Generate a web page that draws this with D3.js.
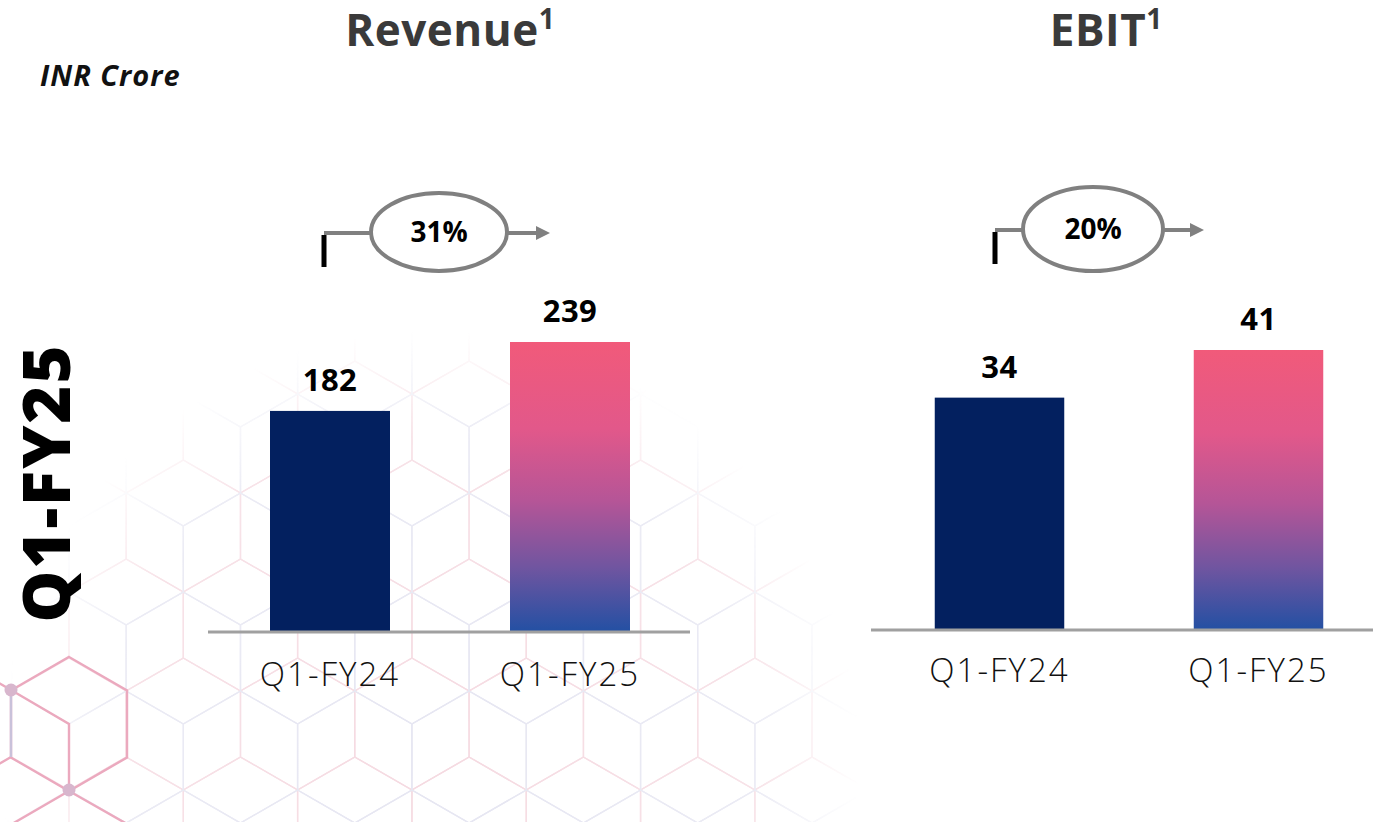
<!DOCTYPE html>
<html><head><meta charset="utf-8">
<script src="https://cdn.jsdelivr.net/npm/d3@7"></script>
<style>html,body{margin:0;padding:0;background:#fff;overflow:hidden;} svg{display:block;}</style>
</head><body><svg id="chart" width="1373" height="822"></svg>
<script>
// ---------- data ----------
const categories = ["Q1-FY24", "Q1-FY25"];
const revenueValues = [182, 239];
const ebitValues = [34, 41];
const panelTitles = ["Revenue", "EBIT"];
const titleNotes = ["1", "1"];
const growthLabels = ["31%", "20%"];
const unitLabel = "INR Crore";
const periodLabel = "Q1-FY25";

// ---------- layout ----------
const W = 1373, H = 822;
const svg = d3.select("#chart");
const defs = svg.append("defs");

const grad = defs.append("linearGradient").attr("id", "barGrad")
  .attr("x1", 0).attr("y1", 0).attr("x2", 0).attr("y2", 1);
[[0, "#F15A7A"], [0.3, "#E2588A"], [0.55, "#B55597"], [0.78, "#7055A0"], [1, "#2450A3"]]
  .forEach(([o, c]) => grad.append("stop").attr("offset", o).attr("stop-color", c));

// background honeycomb (decoration)
const fade = defs.append("radialGradient").attr("id", "fadeGrad")
  .attr("gradientUnits", "userSpaceOnUse").attr("cx", 430).attr("cy", 760).attr("r", 430);
fade.append("stop").attr("offset", 0).attr("stop-color", "#fff").attr("stop-opacity", 0.9);
fade.append("stop").attr("offset", 0.75).attr("stop-color", "#fff").attr("stop-opacity", 0.7);
fade.append("stop").attr("offset", 1).attr("stop-color", "#fff").attr("stop-opacity", 0);
defs.append("mask").attr("id", "fadeMask").append("rect")
  .attr("width", W).attr("height", H).attr("fill", "url(#fadeGrad)");

const R = 66, hw = R * Math.sqrt(3) / 2;
function hexPath(cx, cy, r) {
  const pts = d3.range(6).map(i => {
    const a = Math.PI / 180 * (60 * i - 90);
    return [cx + r * Math.cos(a), cy + r * Math.sin(a)];
  });
  return "M" + pts.map(p => p.join(",")).join("L") + "Z";
}
const bg = svg.append("g").attr("mask", "url(#fadeMask)");
function honeycomb(ox, oy, color) {
  const g = bg.append("g").attr("fill", "none").attr("stroke", color).attr("stroke-width", 1.4);
  for (let row = -4; row <= 2; row++) {
    const cy = oy + row * 1.5 * R;
    const off = (Math.abs(row) % 2) * hw;
    for (let k = -2; k <= 9; k++) {
      const cx = ox + off + k * 2 * hw;
      g.append("path").attr("d", hexPath(cx, cy, R));
    }
  }
}
honeycomb(69, 724, "#F4D6DE");
honeycomb(69 + hw, 724 + 0.5 * R, "#E3E3F0");

// stronger pink cube at lower left
const cube = svg.append("g").attr("fill", "none").attr("stroke", "#EBA9BE").attr("stroke-width", 2.4);
cube.append("path").attr("d", hexPath(69, 724, 67));
cube.append("path").attr("d", "M11,690L69,724L69,791");
cube.append("path").attr("d", "M69,791L12,824M69,791L127,824M11,690L-20,672M11,757L-20,775");
cube.append("path").attr("d", "M11,690L11,757").attr("stroke", "#C9C1DA");
[[11, 690], [69, 790]].forEach(([x, y]) =>
  svg.append("circle").attr("cx", x).attr("cy", y).attr("r", 6.5).attr("fill", "#D8B6CD"));

// ---------- texts ----------
svg.append("text").attr("x", 40).attr("y", 86)
  .attr("font-family", "Open Sans, sans-serif").attr("font-weight", 700).attr("font-style", "italic")
  .attr("font-size", 29).attr("letter-spacing", 1).attr("fill", "#111").text(unitLabel);

svg.append("text").attr("transform", "translate(70,483) rotate(-90)")
  .attr("text-anchor", "middle").attr("font-family", "Open Sans, sans-serif")
  .attr("font-weight", 800).attr("font-size", 65).attr("letter-spacing", 2).attr("fill", "#000").text(periodLabel);

// ---------- panels ----------
const panels = [
  { values: revenueValues, band: [210, 690], axis: [208, 690], base: 631, top: 342, titleX: 450,
    ann: { tick: 324, cx: 439, cy: 232, rx: 68, ry: 39, end: 550 }, labelDy: 55 },
  { values: ebitValues, band: [870, 1388], axis: [871, 1373], base: 629, top: 350, titleX: 1106,
    ann: { tick: 995, cx: 1093, cy: 229, rx: 70, ry: 42, end: 1204 }, labelDy: 53 }
];

panels.forEach((p, i) => {
  const g = svg.append("g");
  const x = d3.scaleBand().domain(categories).range(p.band).paddingInner(0.5).paddingOuter(0.25);
  const y = d3.scaleLinear().domain([0, d3.max(p.values)]).range([p.base, p.top]);

  // title
  const t = g.append("text").attr("x", p.titleX).attr("y", 46).attr("text-anchor", "middle")
    .attr("font-family", "Open Sans, sans-serif").attr("font-weight", 700).attr("fill", "#3A3A3A");
  t.append("tspan").attr("font-size", 44).attr("letter-spacing", 0.5).text(panelTitles[i]);
  t.append("tspan").attr("font-size", 28).attr("dy", -17).text(titleNotes[i]);

  // bars
  g.selectAll("rect.bar").data(p.values).join("rect").attr("class", "bar")
    .attr("x", (d, j) => x(categories[j])).attr("width", x.bandwidth())
    .attr("y", d => y(d)).attr("height", d => y(0) - y(d))
    .attr("fill", (d, j) => j === 0 ? "#03205F" : "url(#barGrad)");

  // value labels
  g.selectAll("text.val").data(p.values).join("text").attr("class", "val")
    .attr("x", (d, j) => x(categories[j]) + x.bandwidth() / 2).attr("y", d => y(d) - 20)
    .attr("text-anchor", "middle").attr("font-family", "Open Sans, sans-serif")
    .attr("font-weight", 700).attr("font-size", 31).attr("letter-spacing", 0.5).attr("fill", "#000").text(d => d);

  // axis
  const ax = g.append("g").attr("transform", `translate(0,${p.base})`)
    .call(d3.axisBottom(x).tickSize(0).tickPadding(p.labelDy - 30));
  ax.select(".domain").remove();
  g.append("line").attr("x1", p.axis[0]).attr("x2", p.axis[1]).attr("y1", p.base + 1).attr("y2", p.base + 1)
    .attr("stroke", "#A0A0A0").attr("stroke-width", 3);
  ax.selectAll("text").attr("font-family", "Open Sans, sans-serif").attr("font-weight", 300)
    .attr("font-size", 33).attr("letter-spacing", 2).attr("fill", "#111").attr("dy", 0).attr("y", p.labelDy);

  // growth annotation
  const a = p.ann;
  g.append("line").attr("x1", a.tick).attr("x2", a.cx - a.rx).attr("y1", a.cy + 1).attr("y2", a.cy + 1)
    .attr("stroke", "#808080").attr("stroke-width", 4);
  g.append("line").attr("x1", a.cx + a.rx).attr("x2", a.end - 12).attr("y1", a.cy + 1).attr("y2", a.cy + 1)
    .attr("stroke", "#808080").attr("stroke-width", 4);
  g.append("path").attr("d", `M${a.end},${a.cy + 1}L${a.end - 14},${a.cy - 6}L${a.end - 14},${a.cy + 8}Z`)
    .attr("fill", "#808080");
  g.append("rect").attr("x", a.tick - 2.5).attr("y", a.cy + 3).attr("width", 5).attr("height", 32).attr("fill", "#000");
  g.append("ellipse").attr("cx", a.cx).attr("cy", a.cy).attr("rx", a.rx).attr("ry", a.ry)
    .attr("fill", "#fff").attr("stroke", "#808080").attr("stroke-width", 4);
  g.append("text").attr("x", a.cx).attr("y", a.cy + 10).attr("text-anchor", "middle")
    .attr("font-family", "Open Sans, sans-serif").attr("font-weight", 700).attr("font-size", 28)
    .attr("fill", "#000").text(growthLabels[i]);
});
</script></body></html>
